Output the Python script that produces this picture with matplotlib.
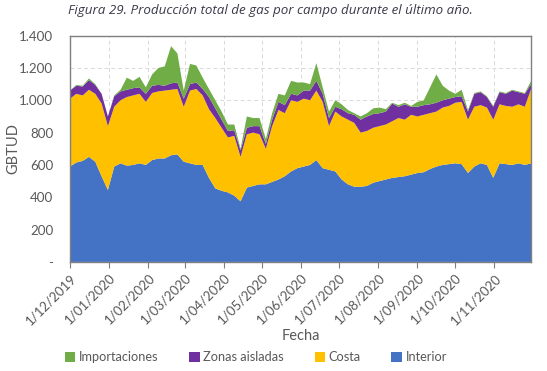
import matplotlib
matplotlib.use("Agg")
import matplotlib.pyplot as plt
import numpy as np
import pandas as pd

start_date = "2019-12-01"
step_days = 5

interior = [590, 615, 625, 650, 620, 530, 445, 590, 610, 595,
            600, 610, 600, 630, 640, 640, 660, 665, 620, 610,
            600, 600, 520, 455, 440, 430, 410, 375, 460, 470,
            480, 480, 495, 510, 530, 560, 580, 590, 600, 630,
            580, 570, 560, 510, 480, 465, 465, 470, 490, 500,
            510, 520, 525, 530, 540, 550, 555, 575, 590, 600,
            605, 610, 605, 550, 590, 610, 600, 520, 610, 605,
            600, 610, 600, 610]
costa = [420, 425, 405, 415, 420, 450, 395, 370, 390, 425,
         430, 430, 390, 415, 415, 420, 405, 405, 340, 450,
         470, 430, 425, 435, 390, 340, 370, 275, 330, 330,
         310, 220, 345, 430, 390, 440, 410, 420, 400, 430,
         410, 270, 370, 390, 400, 395, 335, 340, 340, 340,
         340, 350, 365, 350, 370, 350, 355, 345, 340, 355,
         360, 375, 385, 330, 370, 360, 355, 360, 365, 360,
         360, 365, 360, 460]
zonas = [50, 50, 55, 60, 55, 60, 60, 65, 55, 45,
         45, 40, 50, 45, 40, 30, 40, 40, 50, 40,
         40, 40, 75, 60, 50, 40, 35, 40, 40, 40,
         50, 30, 40, 50, 50, 40, 40, 50, 60, 60,
         50, 50, 30, 45, 40, 50, 80, 90, 85, 80,
         80, 110, 70, 95, 50, 60, 60, 55, 55, 45,
         45, 35, 35, 50, 80, 80, 65, 80, 75, 75,
         100, 75, 80, 30]
importaciones = [0, 5, 5, 10, 5, 0, 0, 5, 10, 75,
                 45, 65, 40, 70, 105, 120, 230, 180, 50, 125,
                 105, 70, 50, 50, 50, 40, 35, 10, 70, 50,
                 50, 30, 40, 50, 60, 80, 80, 50, 40, 110,
                 40, 40, 40, 30, 20, 10, 20, 20, 35, 35,
                 15, 5, 10, 10, 5, 30, 30, 105, 175, 90,
                 50, 20, 40, 10, 5, 5, 5, 5, 5, 5,
                 5, 5, 5, 20]

series_names = ["Interior", "Costa", "Zonas aisladas", "Importaciones"]
series_colors = ["#4472C4", "#FFC000", "#7030A0", "#70AD47"]

ytick_vals = [0, 200, 400, 600, 800, 1000, 1200, 1400]
ytick_labels = ["-", "200", "400", "600", "800", "1.000", "1.200", "1.400"]
xtick_dates = ["2019-12-01", "2020-01-01", "2020-02-01", "2020-03-01",
               "2020-04-01", "2020-05-01", "2020-06-01", "2020-07-01",
               "2020-08-01", "2020-09-01", "2020-10-01", "2020-11-01"]

title = "Figura 29. Producción total de gas por campo durante el último año."

dates = pd.date_range(start_date, periods=len(interior), freq=f"{step_days}D")

fig = plt.figure(figsize=(5.47, 3.71), dpi=100)
ax = fig.add_axes([0.128, 0.294, 0.843, 0.61])

ax.stackplot(dates, interior, costa, zonas, importaciones,
             colors=series_colors, labels=series_names, linewidth=0)

ax.set_xlim(dates[0], dates[-1])
ax.set_ylim(0, 1400)
ax.set_yticks(ytick_vals)
ax.set_yticklabels(ytick_labels)
xt = pd.to_datetime(xtick_dates)
ax.set_xticks(xt)
ax.set_xticklabels([f"{d.day}/{d.month:02d}/{d.year}" for d in xt],
                   rotation=45, ha="right", rotation_mode="anchor")

ax.grid(True, color="#D9D9D9", linestyle=(0, (4, 3)), linewidth=0.7)
ax.set_axisbelow(True)
for s in ax.spines.values():
    s.set_color("#7F7F7F")
    s.set_linewidth(1.0)
    s.set_zorder(5)

lab_color = "#595959"
ax.tick_params(axis="y", length=0, labelsize=9.6, labelcolor=lab_color, pad=12)
ax.tick_params(axis="x", length=4, color="#7F7F7F", labelsize=9.5,
               labelcolor=lab_color, pad=3)
for t in ax.get_xticklabels() + ax.get_yticklabels():
    t.set_fontfamily("Lato")

ax.set_ylabel("GBTUD", fontsize=10.5, color=lab_color, family="Lato")
ax.yaxis.set_label_coords(-0.108, 0.5)
ax.set_xlabel("Fecha", fontsize=10.5, color=lab_color, family="Lato", labelpad=2)

fig.text(0.124, 0.972, title, fontsize=9.6, style="italic", color="#3A3A4A",
         family="Open Sans", ha="left", va="center")

handles, labels = ax.get_legend_handles_labels()
leg = fig.legend(handles[::-1], labels[::-1], loc="lower center",
                 bbox_to_anchor=(0.468, -0.01), ncol=4, frameon=False,
                 handlelength=0.8, handleheight=0.8, handletextpad=0.3,
                 columnspacing=2.4, prop={"family": "Lato", "size": 9.2})
for t in leg.get_texts():
    t.set_color(lab_color)

fig.savefig("out.png", dpi=100)
